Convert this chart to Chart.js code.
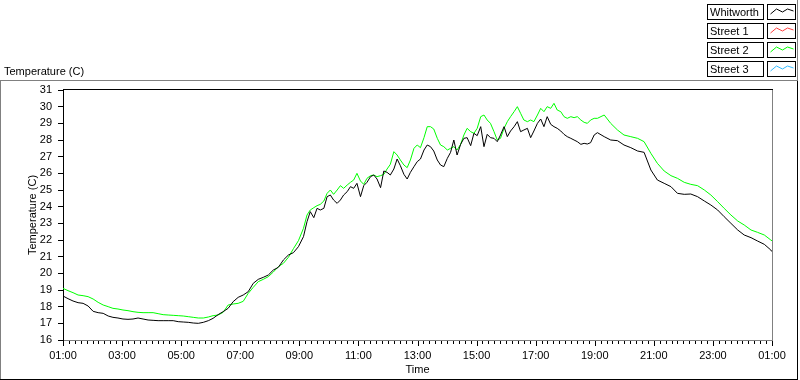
<!DOCTYPE html>
<html>
<head>
<meta charset="utf-8">
<title>Temperature (C)</title>
<script src="https://cdn.jsdelivr.net/npm/chart.js@4.4.1/dist/chart.umd.min.js"></script>
<style>
  html, body { margin: 0; padding: 0; background: #fff; }
  #chart { display: block; }
</style>
</head>
<body>
<canvas id="chart" width="800" height="380"></canvas>
<script>
// --- DATA (hours since midnight, 25 = 01:00 next day) ---
const hours = [
  // night, 01:00 - 09:10
  1.00, 1.17, 1.34, 1.51, 1.68, 1.85, 2.02, 2.19, 2.36, 2.53,
  2.69, 2.86, 3.03, 3.20, 3.37, 3.54, 3.71, 3.88, 4.05, 4.22,
  4.39, 4.56, 4.73, 4.90, 5.07, 5.24, 5.41, 5.58, 5.75, 5.92,
  6.08, 6.25, 6.42, 6.59, 6.76, 6.93, 7.10, 7.27, 7.44, 7.61,
  7.78, 7.95, 8.12, 8.29, 8.46, 8.63, 8.80, 8.97, 9.14,
  // day, 09:15 - 17:10
  9.26, 9.37, 9.49, 9.60, 9.71, 9.83, 9.94, 10.05, 10.16, 10.28,
  10.39, 10.50, 10.62, 10.73, 10.84, 10.95, 11.07, 11.18, 11.29, 11.41,
  11.52, 11.63, 11.75, 11.86, 11.97, 12.08, 12.20, 12.31, 12.42, 12.54,
  12.65, 12.76, 12.88, 12.99, 13.10, 13.22, 13.33, 13.44, 13.55, 13.67,
  13.78, 13.89, 14.01, 14.12, 14.23, 14.34, 14.46, 14.57, 14.68, 14.80,
  14.91, 15.02, 15.14, 15.25, 15.36, 15.47, 15.59, 15.70, 15.81, 15.93,
  16.04, 16.15, 16.27, 16.38, 16.49, 16.60, 16.72, 16.83, 16.94, 17.06,
  17.17,
  // evening, 17:15 - 01:00
  17.28, 17.39, 17.51, 17.62, 17.73, 17.85, 17.96, 18.07, 18.19, 18.30,
  18.41, 18.53, 18.64, 18.75, 18.86, 18.98, 19.09,
  19.32, 19.54, 19.77, 19.99, 20.22, 20.45, 20.67, 20.90, 21.12, 21.35,
  21.58, 21.80, 22.03, 22.25, 22.48, 22.71, 22.93, 23.16, 23.38, 23.61,
  23.84, 24.06, 24.29, 24.51, 24.74, 24.96,
  25.00
];

const whitworth = [
  18.64, 18.48, 18.34, 18.24, 18.2, 18.04, 17.72, 17.64, 17.6, 17.44,
  17.36, 17.32, 17.26, 17.24, 17.26, 17.32, 17.26, 17.2, 17.18, 17.16,
  17.16, 17.16, 17.16, 17.1, 17.08, 17.06, 17.02, 17.0, 17.06, 17.16,
  17.3, 17.52, 17.7, 17.9, 18.3, 18.56, 18.7, 18.9, 19.4, 19.64,
  19.76, 19.9, 20.2, 20.36, 20.8, 21.1, 21.24, 21.6, 22.2,

  23.1, 23.7, 23.34, 23.9, 23.8, 23.9, 24.6, 24.7, 24.4, 24.2,
  24.4, 24.7, 24.9, 25.2, 25.1, 25.4, 24.6, 25.26, 25.46, 25.8,
  25.9, 25.66, 25.14, 26.14, 26.06, 25.9, 26.26, 26.86, 26.46, 25.94,
  25.66, 26.06, 26.4, 26.7, 26.86, 27.4, 27.7, 27.6, 27.34, 26.8,
  26.5, 26.4, 26.9, 27.26, 28.0, 27.1, 27.74, 28.1, 28.14, 27.66,
  28.4, 28.26, 28.8, 27.6, 28.34, 28.14, 28.1, 27.9, 28.3, 28.8,
  28.2, 28.54, 28.8, 29.1, 28.5, 28.6, 28.7, 28.14, 28.54, 29.0,
  29.26,

  28.8, 29.4, 28.94, 28.8, 28.7, 28.54, 28.34, 28.2, 28.1, 28.0,
  27.9, 27.74, 27.8, 27.76, 27.84, 28.3, 28.44,
  28.2, 28.0, 27.96, 27.7, 27.54, 27.34, 27.26, 26.2, 25.6, 25.4,
  25.2, 24.8, 24.74, 24.76, 24.6, 24.34, 24.1, 23.8, 23.4, 23.0,
  22.6, 22.3, 22.14, 21.94, 21.74, 21.4,
  21.3
];

const street1 = [];

const street2 = [
  19.1, 18.96, 18.84, 18.7, 18.66, 18.6, 18.46, 18.26, 18.1, 18.0,
  17.9, 17.86, 17.8, 17.76, 17.7, 17.66, 17.64, 17.64, 17.64, 17.58,
  17.52, 17.5, 17.48, 17.46, 17.44, 17.4, 17.36, 17.32, 17.32, 17.38,
  17.46, 17.5, 17.66, 18.1, 18.16, 18.2, 18.32, 18.8, 19.16, 19.5,
  19.64, 19.8, 20.08, 20.4, 20.6, 20.96, 21.48, 21.96, 22.7,

  23.5, 23.8, 23.94, 24.06, 24.14, 24.34, 24.8, 25.0, 24.74, 25.0,
  25.26, 25.1, 25.3, 25.46, 25.6, 26.0, 25.54, 25.34, 25.7, 25.86,
  25.9, 25.8, 25.86, 25.94, 26.26, 26.54, 27.3, 27.1, 26.8, 26.5,
  26.34, 26.8, 27.5, 27.7, 27.54, 28.14, 28.8, 28.8, 28.66, 28.1,
  27.7, 27.6, 27.4, 27.5, 27.6, 27.4, 27.74, 28.3, 28.7, 28.5,
  28.4, 28.7, 29.4, 29.5, 29.2, 29.0, 28.5, 28.0, 28.1, 28.7,
  29.1, 29.4, 29.7, 30.0, 29.6, 29.2, 29.1, 29.2, 29.1, 29.5,
  29.9,

  29.7, 30.0, 29.9, 30.2, 29.8, 29.7, 29.4, 29.3, 29.4, 29.34,
  29.4, 29.2, 29.06, 29.0, 29.2, 29.3, 29.3,
  29.5, 29.0, 28.6, 28.3, 28.2, 28.1, 27.9, 27.2, 26.6, 26.14,
  25.86, 25.7, 25.46, 25.34, 25.26, 25.0, 24.7, 24.3, 23.9, 23.5,
  23.14, 22.9, 22.6, 22.46, 22.3, 22.0,
  21.95
];

const street3 = [];

const seriesNames = ['Whitworth', 'Street 1', 'Street 2', 'Street 3'];
const seriesValues = [whitworth, street1, street2, street3];
const seriesColors = ['#000000', '#ff4040', '#00ff00', '#33bbff'];

// --- HELPERS ---
const FONT = '"Liberation Sans", Arial, sans-serif';
Chart.defaults.font.family = FONT;
Chart.defaults.font.size = 11;
Chart.defaults.color = '#000';

const toPoints = vals => vals.map((v, i) => ({ x: hours[i], y: v }));
const isMajor = v => Math.round((v - 1) * 5) % 10 === 0;
const hourLabel = v => String(Math.round(v) % 24).padStart(2, '0') + ':00';

function hline(ctx, x1, x2, y, color) {
  ctx.strokeStyle = color;
  ctx.beginPath(); ctx.moveTo(x1, y); ctx.lineTo(x2, y); ctx.stroke();
}
function vline(ctx, x, y1, y2, color) {
  ctx.strokeStyle = color;
  ctx.beginPath(); ctx.moveTo(x, y1); ctx.lineTo(x, y2); ctx.stroke();
}

// --- FRAME, TICKS, LEGEND ---
const framePlugin = {
  id: 'frame',
  beforeDraw(chart) {
    const ctx = chart.ctx;
    ctx.save();
    ctx.fillStyle = '#fff';
    ctx.fillRect(0, 0, chart.width, chart.height);
    ctx.restore();
  },
  afterDraw(chart) {
    const { ctx, chartArea: a } = chart;
    const xs = chart.scales.x;
    ctx.save();
    ctx.lineWidth = 1;

    // outer panel (sunken look)
    hline(ctx, 0, 798, 80.5, '#808080');
    vline(ctx, 0.5, 80, 380, '#808080');
    hline(ctx, 0, 798, 379.5, '#000');
    vline(ctx, 797.5, 80, 380, '#000');

    // plot box: black top, grey right
    hline(ctx, a.left, a.right + 1, Math.round(a.top) - 0.5, '#000');
    vline(ctx, Math.round(a.right) + 0.5, a.top, a.bottom + 1, '#808080');

    // x ticks, long every 2 hours
    xs.ticks.forEach(t => {
      const px = Math.round(xs.getPixelForValue(t.value)) + 0.5;
      const len = isMajor(t.value) ? 6 : 4;
      vline(ctx, px, a.bottom + 1, a.bottom + len, '#000');
    });

    // small title above the plot
    ctx.fillStyle = '#000';
    ctx.font = '11px ' + FONT;
    ctx.textAlign = 'left';
    ctx.textBaseline = 'alphabetic';
    ctx.fillText('Temperature (C)', 4, 75);

    // legend
    vline(ctx, 797.5, 0, 81, '#808080');
    chart.data.datasets.forEach((ds, i) => {
      const y0 = 4 + 19 * i;
      ctx.fillStyle = '#fff';
      ctx.fillRect(707.5, y0 + 0.5, 56, 15);
      ctx.fillRect(767.5, y0 + 0.5, 28, 15);
      ctx.strokeStyle = '#000';
      ctx.strokeRect(707.5, y0 + 0.5, 56, 15);
      ctx.strokeRect(767.5, y0 + 0.5, 28, 15);
      ctx.fillStyle = '#000';
      ctx.fillText(ds.label, 710, y0 + 12);
      const zig = [[3, 10], [9, 5], [15, 8], [20, 5], [26, 7]];
      ctx.strokeStyle = ds.borderColor;
      ctx.beginPath();
      zig.forEach(([dx, dy], k) => {
        if (k === 0) ctx.moveTo(767.5 + dx, y0 + dy);
        else ctx.lineTo(767.5 + dx, y0 + dy);
      });
      ctx.stroke();
    });
    ctx.restore();
  }
};

// --- CHART ---
new Chart(document.getElementById('chart'), {
  type: 'line',
  data: {
    datasets: seriesNames.map((name, i) => ({
      label: name,
      data: toPoints(seriesValues[i]),
      borderColor: seriesColors[i],
      backgroundColor: seriesColors[i],
      borderWidth: 1,
      pointRadius: 0,
      fill: false,
      tension: 0
    }))
  },
  options: {
    responsive: false,
    animation: false,
    devicePixelRatio: 1,
    layout: { padding: { top: 90, right: 28, left: 0, bottom: 0 } },
    plugins: { legend: { display: false }, tooltip: { enabled: false } },
    scales: {
      x: {
        type: 'linear', min: 1, max: 25,
        afterFit: s => { s.height = 40; },
        border: { color: '#808080' },
        grid: { drawOnChartArea: false, tickLength: 6, tickColor: 'rgba(0,0,0,0)' },
        ticks: {
          stepSize: 0.2, autoSkip: false, maxRotation: 0, padding: 3, color: '#000',
          callback: v => isMajor(v) ? hourLabel(v) : ''
        },
        title: { display: true, text: 'Time', color: '#000', padding: { top: 0, bottom: 3 } }
      },
      y: {
        min: 16, max: 31,
        afterFit: s => { s.width = 63; },
        border: { color: '#000' },
        grid: { drawOnChartArea: false, tickLength: 5, tickColor: '#000' },
        ticks: { stepSize: 1, padding: 6, color: '#000' },
        title: { display: true, text: 'Temperature (C)', color: '#000', padding: { top: 26, bottom: 0 } }
      }
    }
  },
  plugins: [framePlugin]
});
</script>
</body>
</html>
